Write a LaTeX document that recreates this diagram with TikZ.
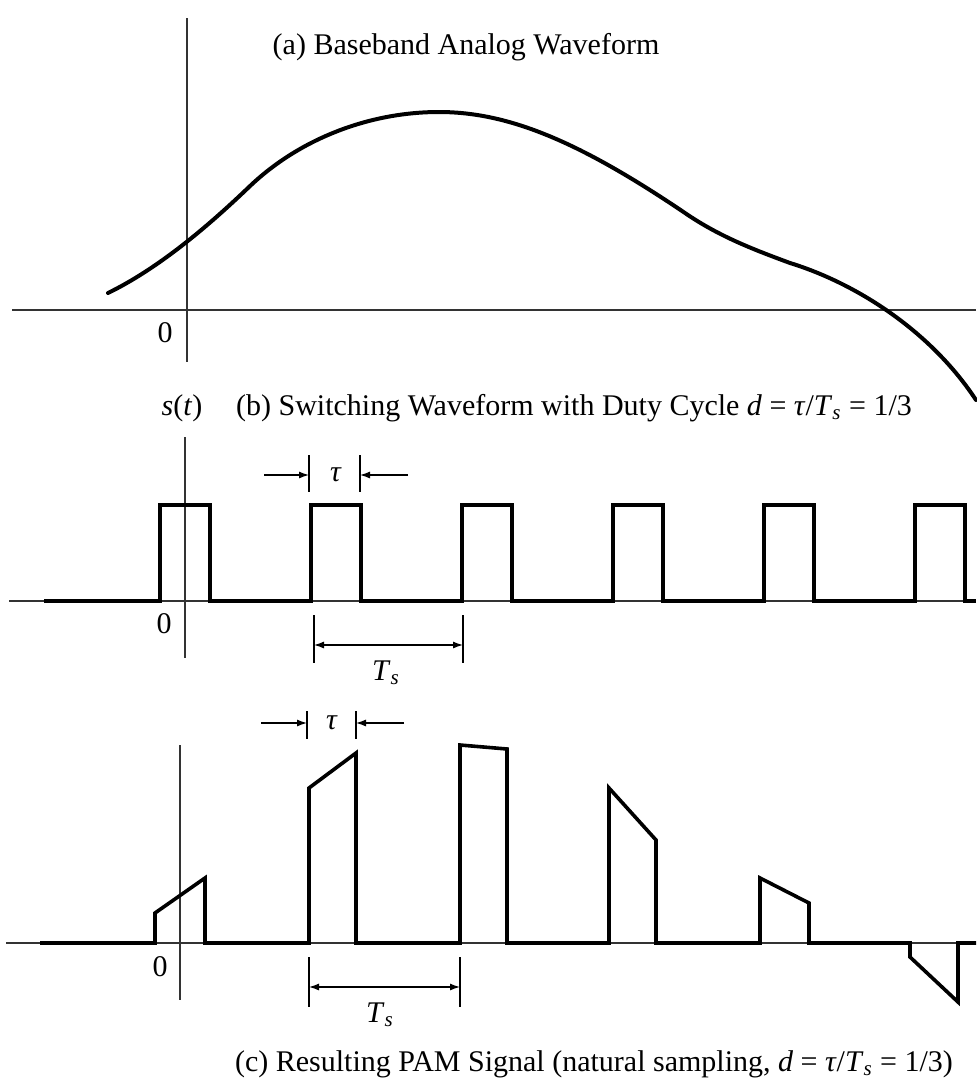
\documentclass[tikz,border=0pt]{standalone}
\usepackage{fontspec}
\setmainfont{Liberation Serif}
\usetikzlibrary{arrows.meta,positioning}

\newcommand{\tauit}{\textit{τ}}
\newcommand{\Tsamp}{\textit{T}\textsubscript{\textit{s}}}

\begin{document}
\begin{tikzpicture}[
  x=0.5pt, y=-0.5pt,
  every node/.style={font=\fontsize{15}{18}\selectfont, inner sep=0pt},
  axisline/.style={line width=0.6pt, black!80},
  signal/.style={line width=1.8pt, line join=miter},
  wave/.style={line width=2pt, line cap=round},
  tickline/.style={line width=0.6pt},
  dimarrow/.style={line width=0.6pt, -{Latex[length=5pt,width=3.5pt]}},
  dimboth/.style={line width=0.6pt, {Latex[length=5pt,width=3.5pt]}-{Latex[length=5pt,width=3.5pt]}}
]
\useasboundingbox (0,0) rectangle (976,1083);

% (a) baseband analog waveform
\draw[axisline] (187,18) -- (187,362);
\draw[axisline] (12,310) -- (976,310);
\node (capa) at (466,47) {(a) Baseband Analog Waveform};
\node (zeroa) at (165,333) {0};
\draw[wave] (108,293) .. controls (155,270) and (202,232) .. (249,187)
  .. controls (299,139) and (369,112) .. (439,112)
  .. controls (509,112) and (580,142) .. (685,213)
  .. controls (720,237) and (755,250) .. (790,263)
  .. controls (855,283) and (930,330) .. (976,400);

% (b) switching waveform
\node (st) at (182,408) {\textit{s}(\textit{t})};
\node (capb) at (574,408) {(b) Switching Waveform with Duty Cycle \textit{d} = \tauit/\Tsamp{} = 1/3};
\draw[axisline] (185,437) -- (185,658);
\draw[axisline] (9,601) -- (976,601);
\draw[signal] (44,601) foreach \k in {0,...,5} { -- ({160+151*\k},601) -- ++(0,-96) -- ++(50,0) -- ++(0,96) } -- (976,601);
\node (zerob) at (164,624) {0};

\coordinate (taubl) at (309,475);
\coordinate (taubr) at (360,475);
\draw[tickline] (taubl) ++(0,-20) -- ++(0,37);
\draw[tickline] (taubr) ++(0,-20) -- ++(0,37);
\draw[dimarrow] (taubl) ++(-45,0) -- (taubl);
\draw[dimarrow] (taubr) ++(48,0) -- (taubr);
\node (taub) at (336,475) {\tauit};

\coordinate (tsbl) at (314,645);
\coordinate (tsbr) at (463,645);
\draw[tickline] (tsbl) ++(0,-30) -- ++(0,48);
\draw[tickline] (tsbr) ++(0,-30) -- ++(0,48);
\draw[dimboth] (tsbl) -- (tsbr);
\node (tsb) at (386,673) {\Tsamp};

% (c) resulting PAM signal
\draw[axisline] (180,745) -- (180,1000);
\draw[axisline] (6,943) -- (976,943);
\draw[signal] (40,943) -- (155,943) -- (155,913) -- (205,878) -- (205,943)
  -- (309,943) -- (309,788) -- (356,753) -- (356,943)
  -- (460,943) -- (460,745) -- (507,749) -- (507,943)
  -- (609,943) -- (609,788) -- (656,840) -- (656,943)
  -- (760,943) -- (760,878) -- (809,903) -- (809,943)
  -- (910,943) -- (910,957) -- (958,1002) -- (958,943) -- (976,943);
\node (zeroc) at (160,967) {0};

\coordinate (taucl) at (307,723);
\coordinate (taucr) at (356,723);
\draw[tickline] (taucl) ++(0,-12) -- ++(0,28);
\draw[tickline] (taucr) ++(0,-12) -- ++(0,28);
\draw[dimarrow] (taucl) ++(-46,0) -- (taucl);
\draw[dimarrow] (taucr) ++(48,0) -- (taucr);
\node (tauc) at (332,723) {\tauit};

\coordinate (tscl) at (309,987);
\coordinate (tscr) at (460,987);
\draw[tickline] (tscl) ++(0,-30) -- ++(0,50);
\draw[tickline] (tscr) ++(0,-30) -- ++(0,50);
\draw[dimboth] (tscl) -- (tscr);
\node (tsc) at (380,1015) {\Tsamp};

\node (capc) at (594,1064) {(c) Resulting PAM Signal (natural sampling, \textit{d} = \tauit/\Tsamp{} = 1/3)};
\end{tikzpicture}
\end{document}
